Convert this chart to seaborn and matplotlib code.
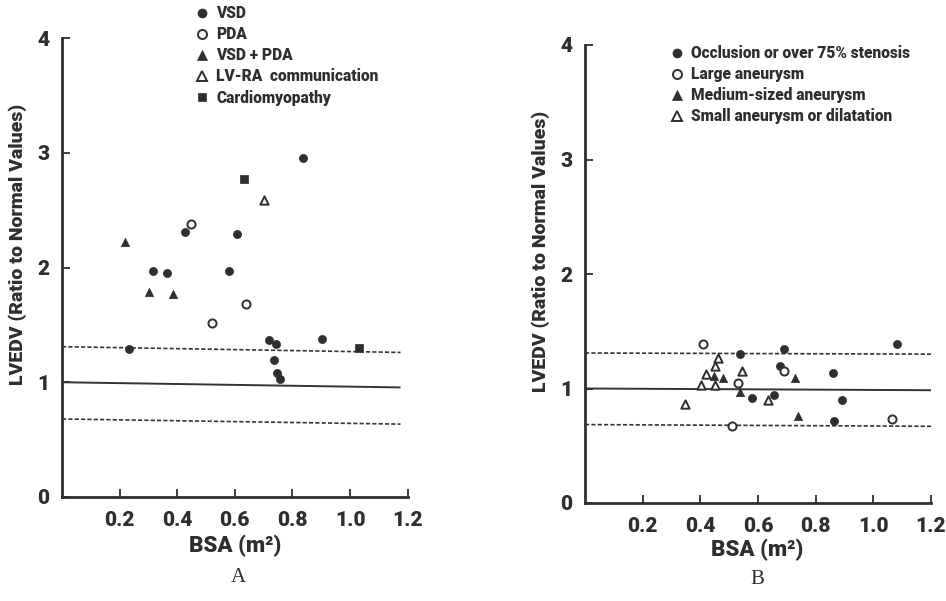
import matplotlib
matplotlib.use("Agg")
import matplotlib.pyplot as plt
from matplotlib.lines import Line2D
import seaborn as sns
import pandas as pd

# ---- Panel A: shunt lesions / cardiomyopathy ----
vsd_x = [0.837, 0.426, 0.606, 0.317, 0.365, 0.579, 0.232, 0.719, 0.742, 0.903, 0.737, 0.748, 0.756]
vsd_y = [2.95, 2.31, 2.29, 1.97, 1.95, 1.97, 1.29, 1.37, 1.33, 1.38, 1.19, 1.08, 1.03]
pda_x = [0.447, 0.640, 0.519]
pda_y = [2.38, 1.68, 1.52]
vsdpda_x = [0.218, 0.303, 0.385]
vsdpda_y = [2.22, 1.79, 1.77]
lvra_x = [0.701]
lvra_y = [2.59]
cm_x = [0.633, 1.031]
cm_y = [2.77, 1.30]

# ---- Panel B: coronary lesions ----
occl_x = [0.538, 0.689, 0.678, 0.580, 0.655, 0.860, 0.864, 1.081, 0.893]
occl_y = [1.30, 1.345, 1.20, 0.92, 0.94, 1.135, 0.716, 1.39, 0.897]
large_x = [0.409, 0.690, 0.529, 0.510, 1.065]
large_y = [1.386, 1.15, 1.045, 0.673, 0.73]
med_x = [0.448, 0.480, 0.538, 0.729, 0.737]
med_y = [1.109, 1.094, 0.967, 1.094, 0.762]
small_x = [0.461, 0.451, 0.419, 0.546, 0.403, 0.451, 0.346, 0.636]
small_y = [1.266, 1.197, 1.124, 1.150, 1.033, 1.033, 0.867, 0.902]

# normal value (solid) and normal range (dashed) reference lines
ref_a_x = [0.0, 1.175]
ref_a_mid = [1.00, 0.955]
ref_a_hi = [1.31, 1.26]
ref_a_lo = [0.68, 0.635]
ref_b_x = [0.0, 1.2]
ref_b_mid = [1.00, 0.985]
ref_b_hi = [1.31, 1.30]
ref_b_lo = [0.685, 0.67]

x_ticks = [0.2, 0.4, 0.6, 0.8, 1.0, 1.2]
x_ticklabels = ["0.2", "0.4", "0.6", "0.8", "1.0", "1.2"]
y_ticks = [0, 1, 2, 3, 4]
y_ticklabels = ["0", "1", "2", "3", "4"]

labels_a = ["VSD", "PDA", "VSD + PDA", "LV-RA  communication", "Cardiomyopathy"]
labels_b = ["Occlusion or over 75% stenosis", "Large aneurysm",
            "Medium-sized aneurysm", "Small aneurysm or dilatation"]

sns.set_style("white")
INK = "#2e2e2e"
SANS = ["Roboto", "DejaVu Sans"]
plt.rcParams["font.family"] = SANS

fig = plt.figure(figsize=(9.46, 6.01), dpi=100)
ax_a = fig.add_axes([62 / 946, 104 / 601, 346 / 946, 459 / 601])
ax_b = fig.add_axes([585 / 946, 98 / 601, 346 / 946, 458 / 601])

# (x, y, marker, filled, label)
groups_a = [
    (vsd_x, vsd_y, "o", True, labels_a[0]),
    (pda_x, pda_y, "o", False, labels_a[1]),
    (vsdpda_x, vsdpda_y, "^", True, labels_a[2]),
    (lvra_x, lvra_y, "^", False, labels_a[3]),
    (cm_x, cm_y, "s", True, labels_a[4]),
]
groups_b = [
    (occl_x, occl_y, "o", True, labels_b[0]),
    (large_x, large_y, "o", False, labels_b[1]),
    (med_x, med_y, "^", True, labels_b[2]),
    (small_x, small_y, "^", False, labels_b[3]),
]

SIZES = {"o": 34, "^": 36, "s": 28}


def draw_panel(ax, groups, rx, rmid, rhi, rlo, xmax):
    ax.plot(rx, rmid, color="#333333", lw=1.4, solid_capstyle="butt")
    for ry in (rhi, rlo):
        ax.plot(rx, ry, color="#333333", lw=1.2, linestyle=(0, (2.5, 1.3)))
    for gx, gy, mk, filled, lab in groups:
        df = pd.DataFrame({"x": gx, "y": gy})
        sns.scatterplot(data=df, x="x", y="y", ax=ax, marker=mk,
                        s=SIZES[mk], color=INK,
                        facecolor=INK if filled else "white",
                        edgecolor=INK, linewidth=1.4 if not filled else 0.5,
                        zorder=3, legend=False)
    ax.set_xlim(0, xmax)
    ax.set_ylim(0, 4)
    ax.set_xticks(x_ticks)
    ax.set_xticklabels(x_ticklabels)
    ax.set_yticks(y_ticks)
    ax.set_yticklabels(y_ticklabels)
    for sp in ("top", "right"):
        ax.spines[sp].set_visible(False)
    for sp in ("left", "bottom"):
        ax.spines[sp].set_color(INK)
        ax.spines[sp].set_linewidth(2.0)
    ax.tick_params(axis="both", direction="in", length=6, width=1.3,
                   color=INK, labelcolor=INK, left=True, bottom=True)
    ax.tick_params(axis="x", pad=10)
    ax.tick_params(axis="y", pad=9)
    for t in ax.get_xticklabels() + ax.get_yticklabels():
        t.set_fontsize(15)
        t.set_fontweight("black")
        t.set_family(SANS)
    ax.set_xlabel("BSA (m²)", fontsize=16, color=INK, family=SANS, weight="black")
    ax.set_ylabel("LVEDV (Ratio to Normal Values)", fontsize=14, color=INK,
                  family=SANS, weight="black")
    ax.set_facecolor("white")


draw_panel(ax_a, groups_a, ref_a_x, ref_a_mid, ref_a_hi, ref_a_lo, 1.201)
draw_panel(ax_b, groups_b, ref_b_x, ref_b_mid, ref_b_hi, ref_b_lo, 1.2)

ax_a.xaxis.set_label_coords(0.50, -0.083)
ax_b.xaxis.set_label_coords(0.497, -0.078)
ax_a.yaxis.set_label_coords(-0.101, 0.55)
ax_b.yaxis.set_label_coords(-0.101, 0.55)


def make_legend(ax, groups, anchor):
    handles = []
    for _, _, mk, filled, lab in groups:
        handles.append(Line2D([], [], linestyle="none", marker=mk,
                              markersize=6.5 if mk != "s" else 5.5,
                              markerfacecolor=INK if filled else "white",
                              markeredgecolor=INK,
                              markeredgewidth=1.4 if not filled else 0.5,
                              label=lab))
    leg = ax.legend(handles=handles, loc="upper left", bbox_to_anchor=anchor,
                    bbox_transform=fig.transFigure, frameon=False,
                    handlelength=0.8, handletextpad=0.5, labelspacing=0.33,
                    borderpad=0, borderaxespad=0,
                    prop=dict(family=SANS, weight="black", size=11.2))
    for t in leg.get_texts():
        t.set_color(INK)


make_legend(ax_a, groups_a, (196 / 946, 1 - 5 / 601))
make_legend(ax_b, groups_b, (671 / 946, 1 - 45 / 601))

fig.text(238 / 946, 1 - 577 / 601, "A", ha="center", va="center",
         fontsize=15, color=INK, family=["Liberation Serif", "DejaVu Serif"])
fig.text(757 / 946, 1 - 579 / 601, "B", ha="center", va="center",
         fontsize=15, color=INK, family=["Liberation Serif", "DejaVu Serif"])

fig.savefig("out.png", dpi=100, facecolor="white")
